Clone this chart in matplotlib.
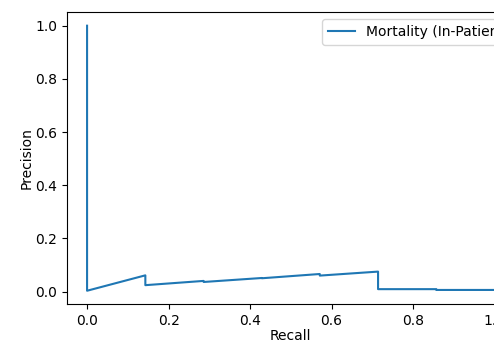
import numpy as np
import matplotlib
matplotlib.use('Agg')
import matplotlib.pyplot as plt

# precision / recall points along the curve (left to right)
recall = [0.0, 0.0, 0.143, 0.143, 0.286, 0.286, 0.429, 0.429,
          0.571, 0.571, 0.714, 0.714, 0.857, 0.857, 1.0]
precision = [1.0, 0.003, 0.061, 0.024, 0.040, 0.036, 0.051, 0.050,
             0.066, 0.060, 0.075, 0.009, 0.009, 0.006, 0.006]
label = 'Mortality (In-Patient)'

fig = plt.figure(figsize=(4.94, 3.43), dpi=100)
# axes runs past the right edge of the figure
ax = fig.add_axes([0.135, 0.1137, 0.9075, 0.85])
ax.plot(recall, precision, label=label)
ax.set_xlabel('Recall', labelpad=1)
ax.set_ylabel('Precision', labelpad=1)
ax.legend(loc='upper right', bbox_to_anchor=(1.016, 1.0))

fig.savefig('out.png', dpi=100)
